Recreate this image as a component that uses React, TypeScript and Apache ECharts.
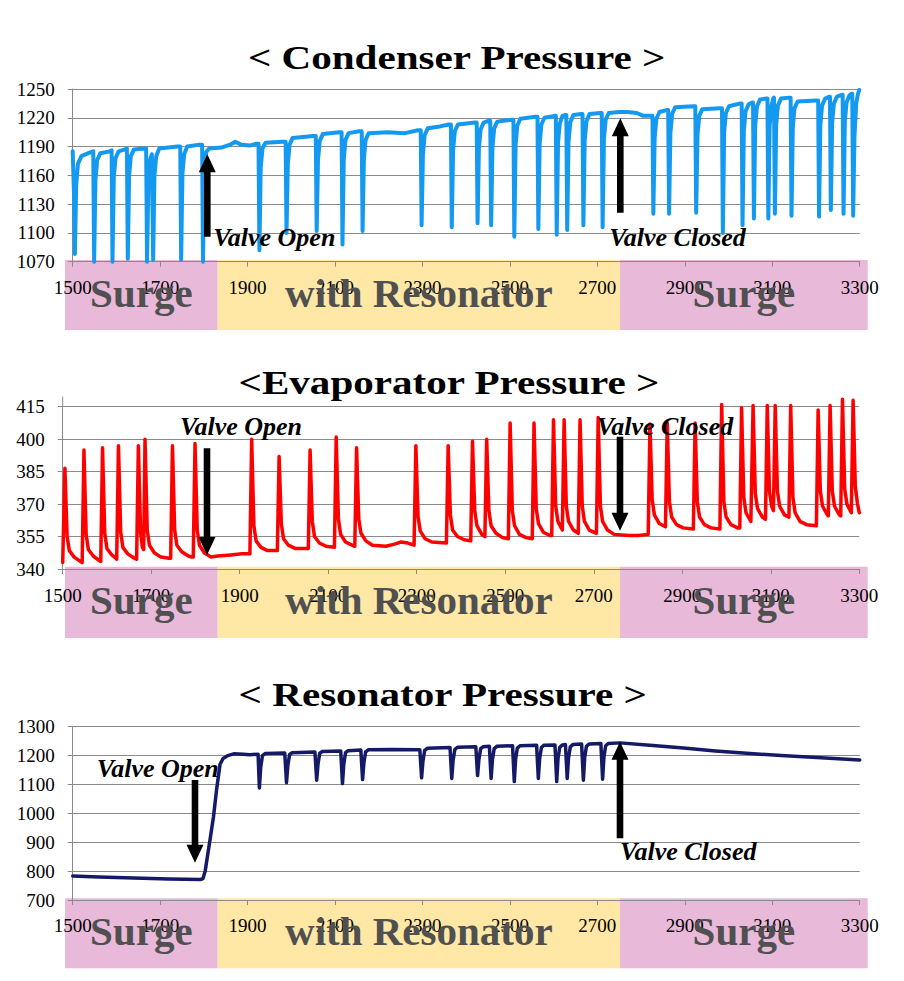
import React, { useEffect, useRef } from "react";
import * as echarts from "echarts";

// ---------- data ----------
const xTicks = [1500, 1700, 1900, 2100, 2300, 2500, 2700, 2900, 3100, 3300];
const condTicks = [1070, 1100, 1130, 1160, 1190, 1220, 1250];
const evapTicks = [340, 355, 370, 385, 400, 415];
const resTicks = [700, 800, 900, 1000, 1100, 1200, 1300];

const titles = ["< Condenser Pressure >", "<Evaporator Pressure >", "< Resonator Pressure >"];
const zoneLabels = ["Surge", "with Resonator", "Surge"];

const condenser: number[][] = [
  [1500,1185],[1503,1140],[1505,1078],[1508,1150],[1512,1172],[1520,1180],[1540,1184],
  [1547,1185],[1549,1070],[1552,1155],[1556,1176],[1563,1183],[1585,1185],
  [1589,1186],[1591,1070],[1594,1158],[1598,1178],[1605,1185],[1620,1187],
  [1624,1188],[1626,1073],[1629,1160],[1633,1180],[1640,1187],[1665,1188],
  [1668,1188],[1670,1070],[1673,1150],[1677,1176],[1681,1182],[1684,1072],[1687,1160],[1691,1180],[1698,1188],[1740,1190],
  [1746,1190],[1748,1072],[1751,1162],[1755,1182],[1762,1190],[1790,1192],
  [1796,1192],[1798,1070],[1801,1165],[1805,1184],[1812,1188],[1840,1189],[1860,1192],[1872,1195],[1885,1192],[1905,1191],[1920,1193],
  [1925,1193],[1927,1082],[1930,1168],[1934,1188],[1941,1194],[1980,1195],
  [1987,1195],[1989,1100],[1992,1172],[1996,1192],[2003,1199],[2050,1201],
  [2056,1201],[2058,1102],[2061,1176],[2065,1196],[2072,1203],[2110,1205],
  [2115,1205],[2117,1088],[2120,1177],[2124,1197],[2131,1204],[2155,1206],
  [2161,1206],[2163,1102],[2166,1177],[2170,1197],[2177,1204],[2220,1205],[2260,1204],[2290,1207],
  [2296,1207],[2298,1108],[2301,1182],[2305,1202],[2312,1209],[2340,1211],[2360,1213],
  [2365,1213],[2367,1106],[2370,1186],[2374,1206],[2381,1213],[2420,1215],
  [2424,1215],[2426,1110],[2429,1188],[2433,1208],[2440,1215],[2452,1217],
  [2455,1217],[2457,1108],[2460,1189],[2464,1209],[2471,1216],[2503,1218],
  [2508,1218],[2510,1096],[2513,1192],[2517,1212],[2524,1219],[2558,1221],
  [2563,1221],[2565,1104],[2568,1193],[2572,1213],[2579,1220],[2602,1222],
  [2605,1222],[2607,1098],[2610,1194],[2614,1214],[2620,1222],[2627,1223],
  [2629,1223],[2631,1103],[2634,1195],[2638,1215],[2645,1223],[2663,1224],
  [2666,1224],[2668,1108],[2671,1196],[2675,1216],[2682,1224],[2707,1225],
  [2710,1225],[2712,1106],[2715,1198],[2719,1218],[2726,1225],[2750,1226],[2770,1226],[2790,1225],[2805,1222],[2822,1222],
  [2826,1222],[2828,1120],[2831,1199],[2835,1219],[2842,1226],[2858,1228],
  [2862,1228],[2864,1120],[2867,1204],[2871,1224],[2878,1231],[2920,1232],
  [2924,1232],[2926,1121],[2929,1202],[2933,1222],[2940,1229],[2980,1230],
  [2985,1230],[2987,1100],[2990,1205],[2994,1225],[3001,1232],[3027,1235],
  [3030,1235],[3032,1108],[3035,1207],[3039,1227],[3046,1234],[3054,1236],
  [3056,1236],[3058,1115],[3061,1212],[3065,1232],[3072,1239],[3087,1240],
  [3089,1240],[3091,1115],[3094,1212],[3098,1232],[3102,1240],[3104,1241],
  [3106,1120],[3109,1213],[3113,1233],[3120,1240],[3140,1241],
  [3142,1241],[3144,1118],[3147,1210],[3151,1230],[3158,1237],[3200,1238],
  [3205,1238],[3207,1117],[3210,1213],[3214,1233],[3221,1240],[3230,1242],
  [3232,1242],[3234,1124],[3237,1215],[3241,1235],[3248,1242],[3259,1244],
  [3261,1244],[3263,1120],[3266,1216],[3270,1236],[3276,1243],[3281,1245],
  [3283,1245],[3285,1118],[3288,1200],[3292,1235],[3296,1245],[3299,1249]
];

const evaporator: number[][] = [
  [1500,343],[1505,386.5],[1510,355],[1515,348.5],[1526,345.5],[1540,343.5],
  [1544,343],[1548,395],[1553,356],[1558,349],[1569,346],[1582,344],
  [1586,343.5],[1590,396],[1595,356.5],[1600,349.5],[1611,346.5],[1620,345],
  [1622,344.5],[1626,397],[1631,357],[1636,350],[1647,347],[1662,345],
  [1667,344.5],[1671,397],[1676,357],[1680,350],[1683,349],[1686,400],[1691,358],[1696,351],[1707,347.5],[1722,345.5],[1740,345],
  [1744,345],[1748,397],[1753,358],[1758,351],[1769,348],[1784,346],[1792,345.5],
  [1795,345.5],[1799,398],[1804,358],[1809,351],[1820,347.5],[1835,345.5],[1850,346],[1880,346.5],[1905,347],[1923,347],
  [1927,400],[1932,360],[1937,353],[1948,350],[1963,348.5],[1985,348.5],
  [1989,392],[1994,361],[1999,354],[2010,351],[2025,349.5],[2055,349.5],
  [2059,395],[2064,362],[2069,355],[2080,352],[2095,350.5],[2114,350],
  [2118,401],[2123,363],[2128,356],[2139,352.5],[2154,351],[2160,350.5],
  [2164,396],[2169,363],[2174,356.5],[2185,353],[2200,351],[2230,350.5],[2250,351.5],[2265,352.5],[2280,352],[2294,351],
  [2298,397],[2303,364],[2308,357.5],[2319,354],[2334,352.5],[2367,352],
  [2371,397],[2376,365],[2381,358],[2392,355],[2407,353.5],[2422,353],
  [2426,399],[2431,367],[2436,360],[2447,356],[2454,355],
  [2458,400],[2463,367],[2468,360],[2479,356.5],[2494,354.5],[2507,354],
  [2511,407.5],[2516,367],[2521,360],[2532,356],[2547,354.5],[2561,354],
  [2565,407.5],[2570,368],[2575,361],[2586,357],[2601,355.5],[2605,355.5],
  [2609,409],[2614,369],[2619,362],[2629,358],
  [2633,409],[2638,369],[2643,362],[2654,358],[2665,356.5],
  [2669,409],[2674,369],[2679,362],[2690,358],[2706,356.5],
  [2710,410],[2715,369],[2720,362],[2731,358],[2746,356],[2780,355.5],[2800,355.5],[2823,356],
  [2827,407],[2832,372],[2837,365],[2848,361],[2862,359.5],
  [2866,407.5],[2871,371],[2876,364],[2887,360.5],[2902,359],[2925,358.5],
  [2929,407.5],[2934,371],[2939,364],[2950,360.5],[2965,359],[2985,358.5],
  [2989,416],[2994,371],[2999,364],[3010,360.5],[3025,359],[3030,359],
  [3034,414.5],[3039,373],[3044,366],[3055,362],
  [3060,415.5],[3065,375],[3070,368],[3081,364],[3088,363],
  [3092,415.5],[3097,376],[3102,369],[3106,367],
  [3110,415.5],[3115,376],[3120,369],[3131,365],[3141,364],
  [3145,415.5],[3150,373],[3155,366],[3166,362],[3181,360.5],[3203,360],
  [3207,413.5],[3212,376],[3217,369],[3228,365],
  [3230,364.5],[3234,415.5],[3239,376],[3244,369],[3255,365],[3258,364.5],
  [3262,418.5],[3267,377],[3272,370],[3282,366],
  [3286,418],[3291,378],[3296,370],[3300,366]
];

const resonator: number[][] = [
  [1500,783],[1560,780],[1640,776],[1720,773],[1792,771],[1798,774],[1803,800],[1808,850],[1814,908],[1822,988],[1829,1081],[1837,1170],[1844,1190],[1855,1200],[1868,1206],[1890,1205],[1905,1203],[1924,1205],
  [1927,1088],[1930,1160],[1934,1200],[1940,1207],[1985,1209],
  [1989,1106],[1992,1165],[1996,1203],[2002,1210],[2054,1212],
  [2058,1115],[2061,1170],[2065,1208],[2071,1214],[2113,1216],
  [2117,1103],[2120,1170],[2124,1210],[2130,1217],[2159,1219],
  [2163,1117],[2166,1175],[2170,1213],[2176,1220],[2230,1221],[2294,1220],
  [2298,1123],[2301,1180],[2305,1218],[2311,1225],[2363,1228],
  [2367,1121],[2370,1183],[2374,1221],[2380,1229],[2422,1231],
  [2426,1131],[2429,1186],[2433,1224],[2439,1231],[2453,1232],
  [2457,1121],[2460,1186],[2464,1224],[2470,1232],[2506,1234],
  [2510,1110],[2513,1188],[2517,1226],[2523,1234],[2561,1236],
  [2565,1121],[2568,1190],[2572,1228],[2578,1236],[2603,1237],
  [2607,1110],[2610,1190],[2614,1229],[2620,1237],[2627,1238],
  [2631,1121],[2634,1191],[2638,1230],[2644,1238],[2664,1240],
  [2668,1115],[2671,1193],[2675,1232],[2681,1240],[2708,1242],
  [2712,1118],[2715,1195],[2719,1234],[2725,1242],[2752,1244],
  [2820,1236],[2897,1226],[2970,1216],[3049,1207],[3120,1200],[3202,1193],[3300,1185]
];

// ---------- layout ----------
const FONT = "Liberation Serif";
const GRID_COLOR = "#8a8a8a";
const PINK = "#E8B9D9";
const YELLOW = "#FFE7A6";

const panels = [
  { left: 72.7, top: 89, width: 787, height: 172.7, ticks: condTicks, data: condenser, color: "#1499F0", lw: 4, labelMargin: 16,
    titleX: 456.7, titleY: 58.2, boxTop: 260, boxBottom: 330, axisExtra: 0,
    arrows: [{ cx: 207.3, tip: 154.3, tail: 236.7 }, { cx: 620.3, tip: 118.3, tail: 212.7 }],
    labels: [{ x: 213.3, y: 237, t: "Valve Open" }, { x: 609.3, y: 237, t: "Valve Closed" }] },
  { left: 62.7, top: 406.7, width: 796.6, height: 162.3, ticks: evapTicks, data: evaporator, color: "#FF0000", lw: 3.5, labelMargin: 17,
    titleX: 449, titleY: 382.5, boxTop: 566.7, boxBottom: 638, axisExtra: 10,
    arrows: [{ cx: 207, tip: 555, tail: 448.3 }, { cx: 620, tip: 530.7, tail: 436.7 }],
    labels: [{ x: 180, y: 426, t: "Valve Open" }, { x: 596.7, y: 426, t: "Valve Closed" }] },
  { left: 72.7, top: 726.7, width: 787, height: 173.3, ticks: resTicks, data: resonator, color: "#151A66", lw: 3.5, labelMargin: 16,
    titleX: 442.8, titleY: 695.2, boxTop: 898.3, boxBottom: 968.3, axisExtra: 0,
    arrows: [{ cx: 195, tip: 862.7, tail: 780 }, { cx: 620, tip: 741.7, tail: 838.3 }],
    labels: [{ x: 96.7, y: 768, t: "Valve Open" }, { x: 620, y: 851, t: "Valve Closed" }] },
];

const BOX_X = [65, 217.7, 620, 867.7];

function arrowPoints(cx: number, tip: number, tail: number) {
  const dir = tail > tip ? 1 : -1;
  const hl = 18, hw = 8.5, sw = 3.3;
  const base = tip + dir * hl;
  return [
    [cx - sw, tail], [cx - sw, base], [cx - hw, base], [cx, tip],
    [cx + hw, base], [cx + sw, base], [cx + sw, tail],
  ];
}

export default function App() {
  const ref = useRef<HTMLDivElement>(null);
  useEffect(() => {
    if (!ref.current) return;
    const chart = echarts.init(ref.current, undefined, { renderer: "svg" });
    const x0 = xTicks[0];
    const xStep = xTicks[1] - xTicks[0];

    const grid: any[] = [];
    const xAxis: any[] = [];
    const yAxis: any[] = [];
    const series: any[] = [];
    const graphic: any[] = [];

    panels.forEach((p, i) => {
      const y0 = p.ticks[0];
      const yStep = p.ticks[1] - p.ticks[0];
      const yMax = p.ticks[p.ticks.length - 1];
      grid.push({ left: p.left, top: p.top, width: p.width, height: p.height, containLabel: false });
      xAxis.push({
        type: "value", gridIndex: i, min: 0, max: xTicks[xTicks.length - 1] - x0, interval: xStep, z: 3,
        axisLine: { show: true, lineStyle: { color: GRID_COLOR, width: 1 } },
        axisTick: { show: true, length: 5, lineStyle: { color: GRID_COLOR } },
        splitLine: { show: false },
        axisLabel: { margin: p.labelMargin, color: "#000", fontFamily: FONT, fontSize: 19, showMinLabel: true, showMaxLabel: true,
          formatter: (v: number) => String(v + x0) },
      });
      yAxis.push({
        type: "value", gridIndex: i, min: 0, max: yMax - y0, interval: yStep, z: 3,
        axisLine: { show: true, lineStyle: { color: GRID_COLOR, width: 1 } },
        axisTick: { show: true, length: 5, lineStyle: { color: GRID_COLOR } },
        splitLine: { show: true, lineStyle: { color: GRID_COLOR, width: 1 } },
        axisLabel: { margin: 18, color: "#000", fontFamily: FONT, fontSize: 19, showMinLabel: true, showMaxLabel: true,
          formatter: (v: number) => String(v + y0) },
      });
      series.push({
        type: "line", xAxisIndex: i, yAxisIndex: i, z: 4, clip: false,
        data: p.data.map(([x, y]) => [x - x0, y - y0]),
        showSymbol: false, symbol: "none", smooth: false,
        lineStyle: { color: p.color, width: p.lw, join: "round", cap: "round" },
      });

      if (p.axisExtra > 0) {
        graphic.push({ type: "line", z: 3, shape: { x1: p.left, y1: p.top - p.axisExtra, x2: p.left, y2: p.top },
          style: { stroke: GRID_COLOR, lineWidth: 1 } });
      }
      graphic.push({
        type: "text", x: p.titleX, y: p.titleY, scaleX: 1.245, z: 10,
        style: { text: titles[i], fontFamily: FONT, fontWeight: "bold", fontSize: 33, fill: "#000", align: "center", verticalAlign: "middle" },
      });
      const fills = [PINK, YELLOW, PINK];
      for (let k = 0; k < 3; k++) {
        graphic.push({
          type: "rect", z: 1,
          shape: { x: BOX_X[k], y: p.boxTop, width: BOX_X[k + 1] - BOX_X[k], height: p.boxBottom - p.boxTop },
          style: { fill: fills[k] },
        });
        graphic.push({
          type: "text", z: 10, x: (BOX_X[k] + BOX_X[k + 1]) / 2, y: (p.boxTop + p.boxBottom) / 2 - 2.5,
          style: { text: zoneLabels[k], fontFamily: FONT, fontWeight: "bold", fontSize: 41, fill: "#505050", align: "center", verticalAlign: "middle" },
        });
      }
      p.arrows.forEach((a) => {
        graphic.push({ type: "polygon", z: 10, shape: { points: arrowPoints(a.cx, a.tip, a.tail) }, style: { fill: "#000" } });
      });
      p.labels.forEach((l) => {
        graphic.push({
          type: "text", z: 10, x: l.x, y: l.y,
          style: { text: l.t, fontFamily: FONT, fontWeight: "bold", fontStyle: "italic", fontSize: 26, fill: "#000", align: "left", verticalAlign: "middle" },
        });
      });
    });

    chart.setOption({
      animation: false,
      backgroundColor: "#fff",
      textStyle: { fontFamily: FONT },
      grid, xAxis, yAxis, series, graphic,
    });
    return () => chart.dispose();
  }, []);
  return <div ref={ref} style={{ position: "absolute", left: 0, top: 0, width: 904, height: 981 }} />;
}
